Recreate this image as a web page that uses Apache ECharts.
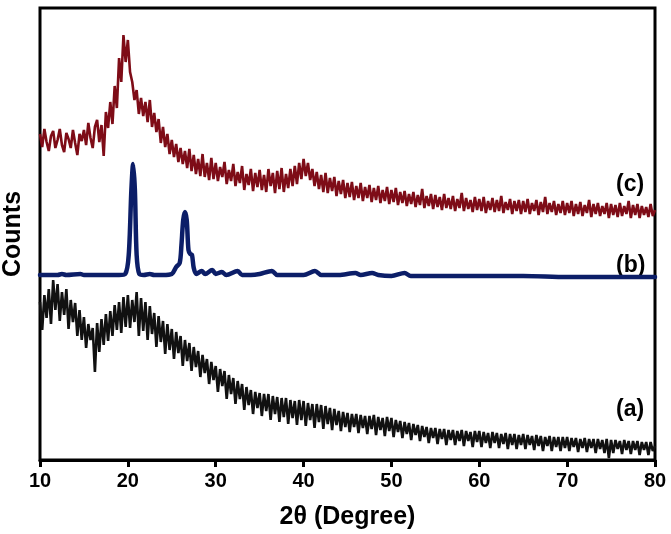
<!DOCTYPE html>
<html>
<head>
<meta charset="utf-8">
<script src="https://cdn.jsdelivr.net/npm/echarts@6/dist/echarts.min.js"></script>
<style>
html,body{margin:0;padding:0;background:#fff;}
#chart{width:671px;height:534px;}
</style>
</head>
<body>
<div id="chart"></div>
<script>
// 2θ sampling grid for the noisy patterns (a) and (c): 10° to 80° in 0.25° steps
const twoThetaStart = 10;
const twoThetaStep = 0.25;

// (c) pattern – counts (arbitrary, offset) read every 0.25°
const countsC = [
  326,313,331,318,309,324,329,312,320,331,315,308,327,321,312,330,317,305,326,319,
  330,315,337,322,312,333,340,318,335,304,348,332,358,336,374,352,402,378,425,398,
  420,388,378,360,370,346,362,344,358,338,360,333,347,328,341,317,333,313,326,306,
  320,303,316,298,312,296,309,292,311,289,305,286,301,284,306,283,297,280,302,281,
  297,279,293,283,298,276,290,279,296,274,288,277,294,270,286,275,291,269,287,273,
  290,270,285,268,291,274,287,267,289,271,292,268,286,272,291,274,294,276,297,281,
  301,284,297,280,291,274,288,271,285,268,287,267,282,269,283,264,279,266,280,262,
  277,263,278,260,274,262,277,259,273,262,275,258,272,260,274,257,270,259,273,256,
  270,258,272,255,268,257,269,254,266,256,268,253,265,255,271,252,264,254,266,251,
  265,253,263,250,266,252,262,251,264,249,261,252,267,249,262,251,260,248,263,250,
  261,249,263,247,259,250,262,248,260,249,264,247,258,250,261,246,259,249,260,246,
  259,248,261,246,257,249,260,245,258,248,263,246,257,248,259,245,256,247,259,245,
  257,247,259,244,256,246,258,244,255,247,260,243,256,246,257,244,254,246,257,242,
  256,245,255,243,257,244,254,246,259,242,255,245,256,242,254,245,253,243,256,244,
  250
];

// (a) pattern – counts read every 0.25°
const countsA = [
  158,130,165,142,171,136,180,150,176,139,168,145,171,131,160,138,157,124,150,120,
  143,112,136,120,132,88,137,108,141,115,146,119,149,124,155,130,158,127,163,133,
  165,132,160,138,168,124,162,129,158,120,154,126,147,113,144,118,139,106,136,110,
  131,101,128,107,124,94,120,99,117,89,113,93,109,83,105,87,101,76,98,80,
  94,68,91,74,89,61,85,66,82,56,79,61,76,50,73,55,70,46,68,52,
  67,44,66,49,66,40,64,46,63,38,62,43,62,36,60,42,59,35,60,40,
  59,34,57,40,56,32,56,38,55,31,54,36,52,30,51,35,49,29,48,33,
  47,28,46,33,46,27,45,32,44,26,44,31,45,25,43,30,42,24,43,29,
  42,23,40,28,39,22,38,26,37,20,36,25,35,19,34,23,33,17,32,22,
  32,16,31,21,31,15,30,20,30,15,29,19,30,14,29,19,28,13,29,18,
  29,13,28,17,27,12,28,17,27,12,26,16,27,11,26,15,26,11,25,15,
  26,11,25,15,24,10,25,14,24,9,23,14,24,9,23,13,23,9,23,12,
  23,9,22,13,22,8,21,12,22,8,21,12,21,7,21,11,20,7,21,2,
  20,7,20,11,19,6,20,10,19,6,19,10,19,5,18,10,18,5,18,9,
  14
];

// (b) pattern – [2θ, counts] read at the baseline and peaks
const patternB = [
  [10,185],[12,185],[12.5,186],[13,185],[14.6,186],[15,185],[17,185],[19,185],
  [19.7,186],[20.1,205],[20.4,270],[20.6,296],[20.8,270],[21.0,205],[21.3,186],
  [21.8,185],[22.5,186],[23,185],[24,185],[25,186],[25.5,193],[25.9,197],
  [26.1,215],[26.3,240],[26.5,248],[26.7,240],[26.9,210],[27.1,206],[27.3,205],
  [27.5,192],[27.8,186],[28.4,189],[28.8,186],[29.6,190],[30,186],[30.7,188],
  [31.2,185],[32.5,189],[33,185],[34,185],[35,186],[36.4,189],[37,185],[38,185],
  [39,185],[40,185],[41.3,189],[42,185],[44,185],[45.9,187],[46.5,185],[47.8,187],
  [48.5,185],[50,184],[51.5,187],[52.2,184],[55,184],[60,184],[65,184],[70,183],
  [75,183],[80,183]
];

// x tick labels
const xTicks = [10,20,30,40,50,60,70,80];
const seriesLabels = ['(a)','(b)','(c)'];

function pair(vals){
  return vals.map((v,i)=>[twoThetaStart + i*twoThetaStep, v]);
}

const chart = echarts.init(document.getElementById('chart'), null, {renderer:'canvas'});
const fontFam = '"Liberation Sans", Arial, sans-serif';
chart.setOption({
  animation:false,
  backgroundColor:'#fff',
  grid:{left:40,right:16,top:8,bottom:74,outerBoundsMode:'none',containLabel:false,
        show:true,borderColor:'#000',borderWidth:3,backgroundColor:'transparent'},
  xAxis:{
    type:'value',min:xTicks[0],max:xTicks[xTicks.length-1],interval:10,
    axisLine:{show:true,onZero:false,lineStyle:{color:'#000',width:3}},
    axisTick:{show:true,inside:false,length:7,lineStyle:{color:'#000',width:3}},
    minorTick:{show:false},
    splitLine:{show:false},
    axisLabel:{color:'#000',fontFamily:fontFam,fontWeight:'bold',fontSize:20,margin:11},
    name:'2θ (Degree)',nameLocation:'middle',nameGap:45,
    nameTextStyle:{color:'#000',fontFamily:fontFam,fontWeight:'bold',fontSize:25}
  },
  yAxis:{
    type:'value',min:0,max:452,
    axisLine:{show:false},axisTick:{show:false},axisLabel:{show:false},splitLine:{show:false},
    name:'Counts',nameLocation:'middle',nameGap:14,nameRotate:90,
    nameTextStyle:{color:'#000',fontFamily:fontFam,fontWeight:'bold',fontSize:25}
  },
  series:[
    {name:'(a)',type:'line',data:pair(countsA),showSymbol:false,sampling:false,
     lineStyle:{color:'#111',width:2.6},z:3},
    {name:'(b)',type:'line',data:patternB,showSymbol:false,smooth:0.3,
     lineStyle:{color:'#0c1e68',width:4.5,cap:'round',join:'round'},z:4},
    {name:'(c)',type:'line',data:pair(countsC),showSymbol:false,sampling:false,
     lineStyle:{color:'#7e0c17',width:2.6},z:2}
  ],
  graphic:[
    {type:'text',left:616,top:398,style:{text:seriesLabels[0],fill:'#000',font:'bold 23px '+fontFam}},
    {type:'text',left:616,top:254,style:{text:seriesLabels[1],fill:'#000',font:'bold 23px '+fontFam}},
    {type:'text',left:616,top:173,style:{text:seriesLabels[2],fill:'#000',font:'bold 23px '+fontFam}}
  ]
});
</script>
</body>
</html>
